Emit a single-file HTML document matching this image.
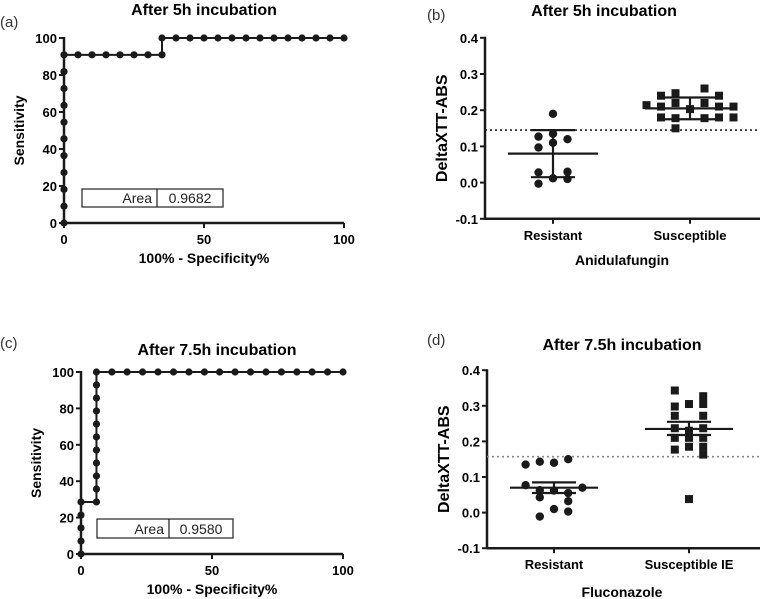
<!DOCTYPE html>
<html><head><meta charset="utf-8"><style>
html,body{margin:0;padding:0;background:#fff}
svg{display:block;font-family:"Liberation Sans",Arial,sans-serif}
.t{font-weight:bold;font-size:16px}
.tk{font-weight:bold;font-size:13px}
.al{font-weight:bold;font-size:14px}
.alb{font-weight:bold;font-size:16px}
</style></head><body>
<svg id="s" width="760" height="599" viewBox="0 0 760 599">
</svg>
<script>
const rocAX=[0,0,0,0,0,0,0,0,0,0,0,5,10,15,20,25,30,35,35,40,45,50,55,60,65,70,75,80,85,90,95,100];
const rocAY=[0,9.1,18.2,27.3,36.4,45.5,54.5,63.6,72.7,81.8,90.9,90.9,90.9,90.9,90.9,90.9,90.9,90.9,100,100,100,100,100,100,100,100,100,100,100,100,100,100];
const rocCX=[0,0,0,0,0,5.9,5.9,5.9,5.9,5.9,5.9,5.9,5.9,5.9,5.9,5.9,11.8,17.6,23.5,29.4,35.3,41.2,47.1,52.9,58.8,64.7,70.6,76.5,82.4,88.2,94.1,100];
const rocCY=[0,7.1,14.3,21.4,28.6,28.6,35.7,42.9,50,57.1,64.3,71.4,78.6,85.7,92.9,100,100,100,100,100,100,100,100,100,100,100,100,100,100,100,100,100];
const rocTicks=[0,20,40,60,80,100];
const rocXTicks=[0,50,100];
const areaA="0.9682", areaC="0.9580";
const catsB=["Resistant","Susceptible"];
const resB=[0.19,0.127,0.135,0.097,0.11,0.12,0.028,0.03,0.012,0.01,-0.003];
const resBoff=[0,-1,0,-1,0,1,-1,1,0,1,-1];
const susB=[0.214,0.24,0.21,0.18,0.247,0.22,0.178,0.15,0.203,0.26,0.22,0.178,0.24,0.21,0.18,0.21,0.18];
const susBoff=[-3,-2,-2,-2,-1,-1,-1,-1,0,1,1,1,2,2,2,3,3];
const statB=[[0.08,0.015,0.145],[0.205,0.175,0.235]];
const cutB=0.145;
const catsD=["Resistant","Susceptible IE"];
const resD=[0.135,0.077,0.143,0.063,0.043,-0.011,0.14,0.062,0.01,0.15,0.055,0.032,0.003,0.07];
const resDoff=[-2,-2,-1,-1,-1,-1,0,0,0,1,1,1,1,2];
const susD=[0.343,0.298,0.272,0.237,0.21,0.177,0.305,0.23,0.21,0.185,0.038,0.327,0.305,0.272,0.237,0.21,0.185,0.163];
const susDoff=[-1,-1,-1,-1,-1,-1,0,0,0,0,0,1,1,1,1,1,1,1];
const statD=[[0.07,0.055,0.085],[0.235,0.218,0.255]];
const cutD=0.157;
const yTicksS=[-0.1,0,0.1,0.2,0.3,0.4];

const S=document.getElementById('s');const NS='http://www.w3.org/2000/svg';
function el(tag,attrs,txt){const e=document.createElementNS(NS,tag);for(const k in attrs)e.setAttribute(k,attrs[k]);if(txt!=null)e.textContent=txt;S.appendChild(e);return e;}
function line(x1,y1,x2,y2,w,extra){return el('line',Object.assign({x1,y1,x2,y2,stroke:'#1a1a1a','stroke-width':w||2},extra||{}));}

function roc(p){
 const sx=v=>p.x0+(p.x1-p.x0)*v/100, sy=v=>p.y0-(p.y0-p.y1)*v/100;
 let e=el('text',{x:p.tx,y:p.ty,'text-anchor':'middle',class:'t'},p.title);
 
 e=el('text',{x:p.lx,y:p.ly,'font-size':'15',fill:'#333'},p.letter);
 
 line(p.x0,p.y0,p.x1,p.y0,2.5);line(p.x0,p.y0+1,p.x0,p.y1-1,2.5);
 rocTicks.forEach(t=>{line(p.x0-5,sy(t),p.x0,sy(t),2);
  const e=el('text',{x:p.x0-7,y:sy(t)+5,'text-anchor':'end',class:'tk'},t);
  });
 rocXTicks.forEach(t=>{line(sx(t),p.y0,sx(t),p.y0+5,2);
  const e=el('text',{x:sx(t),y:p.y0+21,'text-anchor':'middle',class:'tk'},t);
  });
 e=el('text',{x:(p.x0+p.x1)/2,y:p.y0+40,'text-anchor':'middle',class:'al'},'100% - Specificity%');
 
 e=el('text',{x:0,y:0,'text-anchor':'middle',class:'al',transform:`translate(${p.x0-40},${(p.y0+p.y1)/2}) rotate(-90)`},'Sensitivity');
 
 const pts=p.X.map((x,i)=>sx(x)+','+sy(p.Y[i])).join(' ');
 e=el('polyline',{points:pts,fill:'none',stroke:'#1a1a1a','stroke-width':2});
 
 p.X.forEach((x,i)=>{const c=el('circle',{cx:sx(x),cy:sy(p.Y[i]),r:3.6,fill:'#1a1a1a'});
  });
 const b=p.box;
 e=el('rect',{x:b[0],y:b[1],width:b[2]-b[0],height:b[3]-b[1],fill:'#fff',stroke:'#222','stroke-width':1.2});
 
 line(b[4],b[1],b[4],b[3],1.2);
 e=el('text',{x:b[4]-5,y:b[3]-4,'text-anchor':'end','font-size':'14',fill:'#222'},'Area');
 
 e=el('text',{x:(b[4]+b[2])/2,y:b[3]-4,'text-anchor':'middle','font-size':'14',fill:'#222'},p.area);
 
}
roc({id:'panel-a',x0:64,x1:344,y0:223,y1:38,X:rocAX,Y:rocAY,title:'After 5h incubation',tx:204,ty:15,letter:'(a)',lx:0,ly:27,box:[82,189,223,207,157],area:areaA});
roc({id:'panel-c',x0:81,x1:343,y0:554,y1:372,X:rocCX,Y:rocCY,title:'After 7.5h incubation',tx:217,ty:355,letter:'(c)',lx:0,ly:348,box:[97,519,233,538,169],area:areaC});

function scat(p){
 const sy=v=>p.yz-v*p.k;
 let e=el('text',{x:p.tx,y:p.ty,'text-anchor':'middle',class:'t'},p.title);
 
 e=el('text',{x:p.lx,y:p.ly,'font-size':'15',fill:'#333'},p.letter);
 
 const yb=sy(-0.1);
 line(p.ax,yb,760,yb,2.5);line(p.ax,yb+1,p.ax,sy(0.4)-1,2.5);
 yTicksS.forEach(t=>{line(p.ax-5,sy(t),p.ax,sy(t),2);
  const e=el('text',{x:p.ax-7,y:sy(t)+5,'text-anchor':'end',class:'tk'},t.toFixed(1));
  });
 p.cats.forEach((c,i)=>{line(p.cx[i],yb,p.cx[i],yb+5,2);
  const e=el('text',{x:p.cx[i],y:yb+21,'text-anchor':'middle',class:'tk'},c);
  });
 e=el('text',{x:622,y:yb+p.xtOff,'text-anchor':'middle',class:'al'},p.xt);
 
 e=el('text',{x:0,y:0,'text-anchor':'middle',class:'alb',transform:`translate(${p.ax-38},${(sy(0.4)+yb)/2}) rotate(-90)`},'DeltaXTT-ABS');
 
 e=line(p.ax,sy(p.cut),760,sy(p.cut),1.6,{'stroke-dasharray':'2,3',stroke:p.cutCol});
 
 p.res.forEach((v,i)=>{const c=el('circle',{cx:p.cx[0]+p.resOff[i]*p.dx,cy:sy(v),r:4.2,fill:'#1a1a1a'});
  });
 p.sus.forEach((v,i)=>{const r=el('rect',{x:p.cx[1]+p.susOff[i]*p.dx-4,y:sy(v)-4,width:8,height:8,fill:'#1a1a1a'});
  });
 p.stat.forEach((s,i)=>{const x=p.cx[i];
  let m=line(x-p.mw,sy(s[0]),x+p.mw,sy(s[0]),2.2);
  m=line(x,sy(s[1]),x,sy(s[2]),2.2);
  line(x-p.ww[i],sy(s[1]),x+p.ww[i],sy(s[1]),2.2);line(x-p.ww[i],sy(s[2]),x+p.ww[i],sy(s[2]),2.2);});
}
scat({id:'panel-b',ax:485,yz:182.6,k:362,cx:[553,690],cats:catsB,title:'After 5h incubation',tx:604,ty:16,letter:'(b)',lx:427,ly:20,xt:'Anidulafungin',xtOff:46,res:resB,resOff:resBoff,sus:susB,susOff:susBoff,dx:14.5,stat:statB,mw:45,ww:[22,25],cut:cutB,cutCol:'#222'});
scat({id:'panel-d',ax:487,yz:512.6,k:356,cx:[554,689],cats:catsD,title:'After 7.5h incubation',tx:622,ty:350,letter:'(d)',lx:427,ly:345,xt:'Fluconazole',xtOff:49,res:resD,resOff:resDoff,sus:susD,susOff:susDoff,dx:14.2,stat:statD,mw:44,ww:[22,22],cut:cutD,cutCol:'#888'});
</script>
</body></html>
